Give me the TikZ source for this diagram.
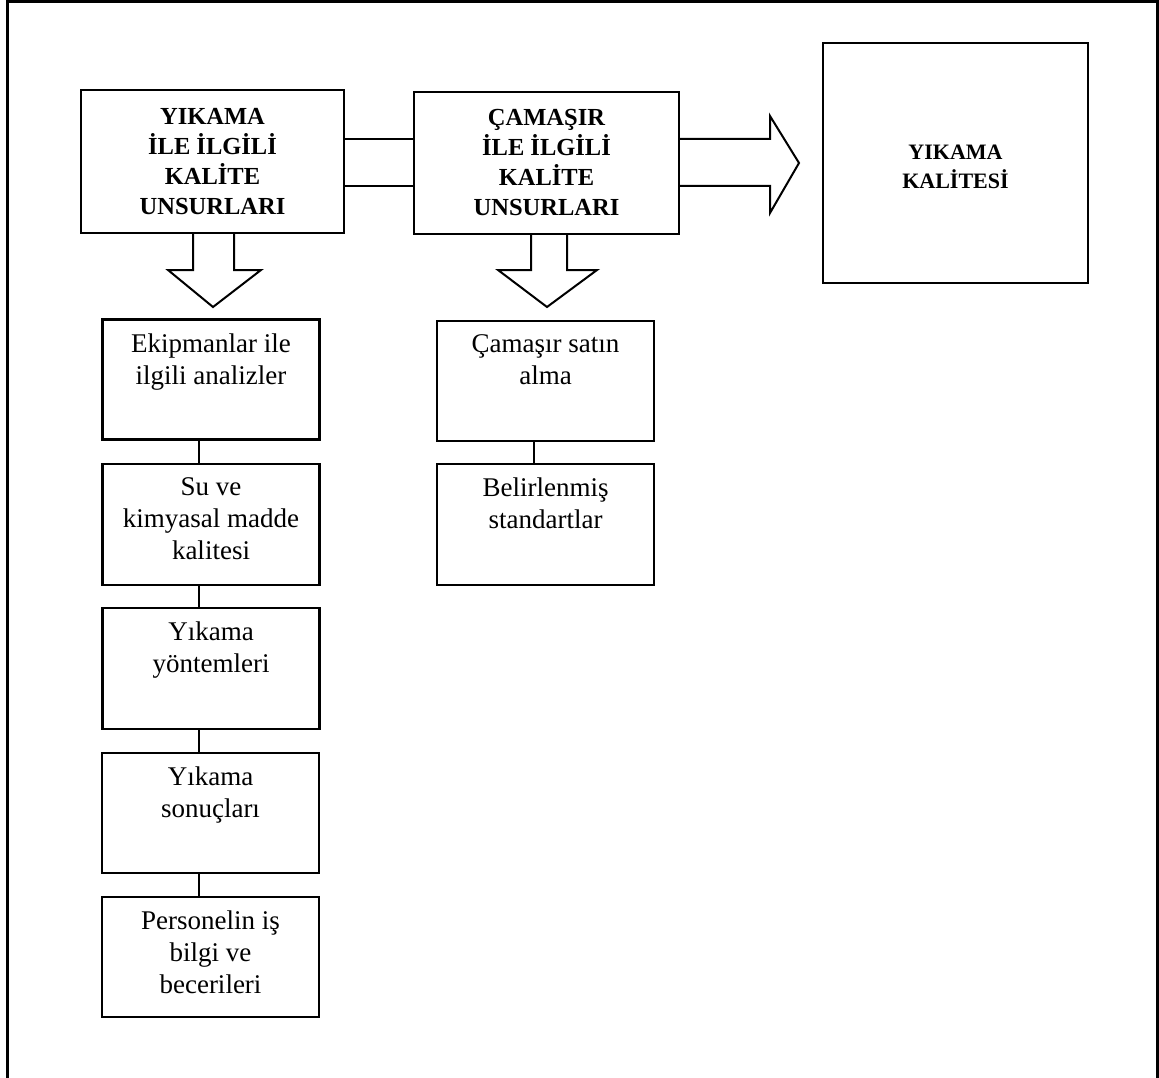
\documentclass[tikz,border=0pt]{standalone}
\usepackage{fontspec}
\setmainfont{Liberation Serif}
\begin{document}
\begin{tikzpicture}[x=1pt,y=1pt,
  box/.style={draw,line width=2.4pt,inner sep=0pt},
  head/.style={font=\fontsize{24.5}{30}\selectfont\bfseries,align=center},
  body/.style={font=\fontsize{27}{32}\selectfont,align=center,anchor=north,inner sep=0pt},
  link/.style={line width=2.4pt},
  bigarrow/.style={line width=2pt,line join=miter}]
\useasboundingbox (0,0) rectangle (1159,-1078);
% frame
\draw[line width=3pt] (7,-1078) -- (7,-2) -- (1157,-2) -- (1157,-1078);
% heading boxes
\node[box,minimum width=263,minimum height=143] (b1) at (212.5,-161.5) {};
\node[head] at (b1.center) {YIKAMA\\İLE İLGİLİ\\KALİTE\\UNSURLARI};
\node[box,minimum width=265,minimum height=142] (b2) at (546.5,-163) {};
\node[head] at (b2.center) {ÇAMAŞIR\\İLE İLGİLİ\\KALİTE\\UNSURLARI};
\node[box,minimum width=265,minimum height=240] (b3) at (955.5,-163) {};
\node[head,font=\fontsize{22}{29}\selectfont\bfseries] at ([yshift=-4]b3.center) {YIKAMA\\KALİTESİ};
% connection between heading boxes
\draw[bigarrow] (b1.east |- 0,-139) -- (b2.west |- 0,-139);
\draw[bigarrow] (b1.east |- 0,-186) -- (b2.west |- 0,-186);
% right big arrow
\coordinate (rtip) at (799,-163);
\draw[bigarrow] (b2.east |- 0,-139) -- (770,-139) -- (770,-116) -- (rtip) -- (770,-213) -- (770,-186) -- (b2.east |- 0,-186);
% body boxes left
\node[box,minimum width=217,minimum height=120] (a) at (211,-379.5) {};
\node[body] at ([yshift=-15]a.north) {Ekipmanlar ile\\ilgili analizler};
\node[box,minimum width=217,minimum height=121] (b) at (211,-524.5) {};
\node[body] at ([yshift=-15]b.north) {Su ve\\kimyasal madde\\kalitesi};
\node[box,minimum width=217,minimum height=121] (c) at (211,-668.5) {};
\node[body] at ([yshift=-15]c.north) {Yıkama\\yöntemleri};
\node[box,minimum width=217,minimum height=120] (d) at (210.5,-813) {};
\node[body] at ([yshift=-15]d.north) {Yıkama\\sonuçları};
\node[box,minimum width=217,minimum height=120] (e) at (210.5,-957) {};
\node[body] at ([yshift=-15]e.north) {Personelin iş\\bilgi ve\\becerileri};
% body boxes middle
\node[box,minimum width=217,minimum height=120] (f) at (545.5,-381) {};
\node[body] at ([yshift=-15]f.north) {Çamaşır satın\\alma};
\node[box,minimum width=217,minimum height=121] (g) at (545.5,-524.5) {};
\node[body] at ([yshift=-15]g.north) {Belirlenmiş\\standartlar};
% down arrows
\draw[bigarrow] (193,0 |- b1.south) -- (193,-270) -- (168,-270) -- (213,-307) -- (261,-270) -- (234,-270) -- (234,0 |- b1.south);
\draw[bigarrow] (531,0 |- b2.south) -- (531,-270) -- (498,-270) -- (547,-307) -- (597,-270) -- (567,-270) -- (567,0 |- b2.south);
% vertical links
\draw[link] (a.south -| 199,0) -- (b.north -| 199,0);
\draw[link] (b.south -| 199,0) -- (c.north -| 199,0);
\draw[link] (c.south -| 199,0) -- (d.north -| 199,0);
\draw[link] (d.south -| 199,0) -- (e.north -| 199,0);
\draw[link] (f.south -| 534,0) -- (g.north -| 534,0);
\end{tikzpicture}
\end{document}
